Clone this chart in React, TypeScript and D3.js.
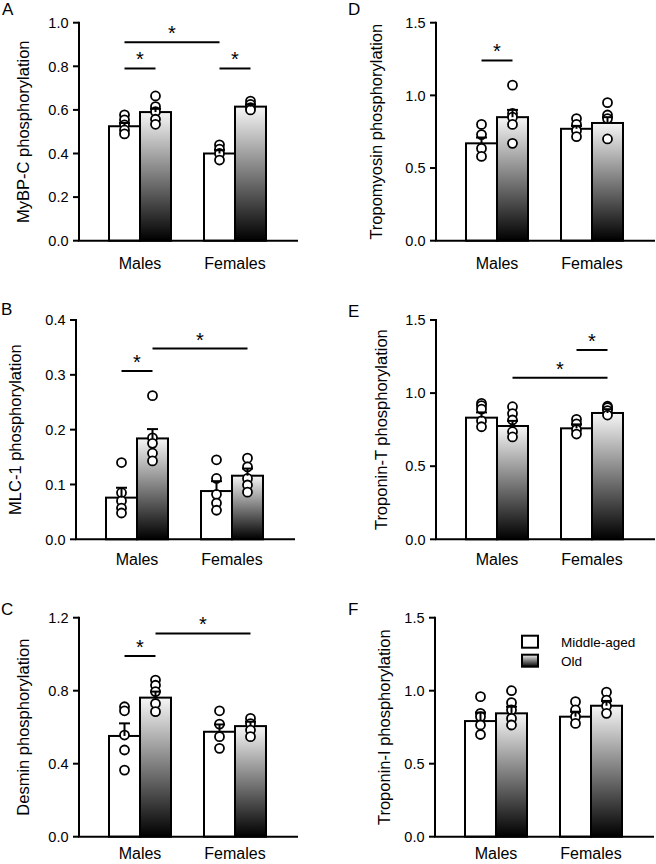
import React from "react";
import * as d3 from "d3";

const groups = ["Males", "Females"];
const seriesNames = ["Middle-aged", "Old"];

// bar order: [MA Males, Old Males, MA Females, Old Females]
const mybpcMeans = [0.525, 0.59, 0.4, 0.615];
const mybpcSem = [0.015, 0.015, 0.015, 0.01];
const mybpcDots = [[0.577, 0.554, 0.531, 0.508, 0.49], [0.664, 0.615, 0.592, 0.557, 0.534], [0.44, 0.42, 0.4, 0.37], [0.64, 0.625, 0.61, 0.6]];
const mybpcTicks = [0, 0.2, 0.4, 0.6, 0.8, 1.0];

const mlcMeans = [0.076, 0.184, 0.088, 0.116];
const mlcSem = [0.018, 0.017, 0.018, 0.013];
const mlcDots = [[0.14, 0.085, 0.07, 0.057, 0.048], [0.262, 0.185, 0.175, 0.157, 0.143], [0.145, 0.111, 0.082, 0.066, 0.053], [0.148, 0.132, 0.111, 0.099, 0.086]];
const mlcTicks = [0, 0.1, 0.2, 0.3, 0.4];

const desminMeans = [0.552, 0.762, 0.575, 0.606];
const desminSem = [0.069, 0.033, 0.04, 0.024];
const desminDots = [[0.712, 0.69, 0.557, 0.475, 0.365], [0.858, 0.83, 0.795, 0.73, 0.685], [0.69, 0.617, 0.548, 0.484], [0.648, 0.62, 0.584, 0.548]];
const desminTicks = [0, 0.4, 0.8, 1.2];

const tropoMeans = [0.67, 0.85, 0.77, 0.81];
const tropoSem = [0.04, 0.05, 0.02, 0.04];
const tropoDots = [[0.8, 0.73, 0.635, 0.58], [1.07, 0.876, 0.85, 0.8, 0.67], [0.84, 0.8, 0.757, 0.716], [0.95, 0.865, 0.84, 0.7]];
const tnTMeans = [0.832, 0.775, 0.759, 0.864];
const tnTSem = [0.036, 0.035, 0.027, 0.026];
const tnTDots = [[0.93, 0.914, 0.89, 0.81, 0.77], [0.907, 0.86, 0.816, 0.736, 0.7], [0.82, 0.79, 0.75, 0.72], [0.91, 0.9, 0.88, 0.85]];
const tnIMeans = [0.792, 0.845, 0.822, 0.897];
const tnISem = [0.058, 0.045, 0.034, 0.033];
const tnIDots = [[0.959, 0.845, 0.822, 0.765, 0.7], [1.0, 0.918, 0.868, 0.81, 0.765], [0.925, 0.868, 0.822, 0.776], [0.99, 0.936, 0.895, 0.845]];
const ticks15 = [0, 0.5, 1.0, 1.5];

// significance: [barA, barB, y]
const mybpcSig = [[0, 1, 0.79], [2, 3, 0.79], [0, 2, 0.91]];
const mlcSig = [[0, 1, 0.307], [1, 3, 0.348]];
const desminSig = [[0, 1, 0.99], [1, 3, 1.114]];
const tropoSig = [[0, 1, 1.24]];
const tnTSig = [[2, 3, 1.295], [1, 3, 1.105]];
const tnISig: number[][] = [];

const FONT = "'Liberation Sans', Arial, Helvetica, sans-serif";

type PanelCfg = {
  letter: string; lx: number; ly: number;
  title: string; tx: number;
  ox: number; yTop: number; yBot: number;
  max: number; ticks: number[]; fmt: string;
  means: number[]; sem: number[]; dots: number[][]; sig: number[][];
  labelOff: number; legend?: boolean;
};

const panels: PanelCfg[] = [
  { letter: "A", lx: 2, ly: 15, title: "MyBP-C phosphorylation", tx: 29, ox: 79, yTop: 22.7, yBot: 240.7, max: 1.0, ticks: mybpcTicks, fmt: ".1f", means: mybpcMeans, sem: mybpcSem, dots: mybpcDots, sig: mybpcSig, labelOff: 28.5 },
  { letter: "B", lx: 1, ly: 315, title: "MLC-1 phosphorylation", tx: 21, ox: 76, yTop: 320, yBot: 539.3, max: 0.4, ticks: mlcTicks, fmt: ".1f", means: mlcMeans, sem: mlcSem, dots: mlcDots, sig: mlcSig, labelOff: 26 },
  { letter: "C", lx: 1, ly: 615, title: "Desmin phosphorylation", tx: 29, ox: 79, yTop: 617.7, yBot: 836.7, max: 1.2, ticks: desminTicks, fmt: ".1f", means: desminMeans, sem: desminSem, dots: desminDots, sig: desminSig, labelOff: 22.5 },
  { letter: "D", lx: 348, ly: 15, title: "Tropomyosin phosphorylation", tx: 382, ox: 436, yTop: 22.7, yBot: 240.7, max: 1.5, ticks: ticks15, fmt: ".1f", means: tropoMeans, sem: tropoSem, dots: tropoDots, sig: tropoSig, labelOff: 28.5 },
  { letter: "E", lx: 348, ly: 317, title: "Troponin-T phosphorylation", tx: 387, ox: 436, yTop: 320, yBot: 539.3, max: 1.5, ticks: ticks15, fmt: ".1f", means: tnTMeans, sem: tnTSem, dots: tnTDots, sig: tnTSig, labelOff: 26 },
  { letter: "F", lx: 348, ly: 615, title: "Troponin-I phosphorylation", tx: 390, ox: 435, yTop: 617.7, yBot: 836.7, max: 1.5, ticks: ticks15, fmt: ".1f", means: tnIMeans, sem: tnISem, dots: tnIDots, sig: tnISig, labelOff: 22.5, legend: true },
];

const BAR_W = 31;

function Panel({ p }: { p: PanelCfg }) {
  const y = d3.scaleLinear().domain([0, p.max]).range([p.yBot, p.yTop]);
  const gx = d3.scalePoint<string>().domain(groups).range([p.ox + 61, p.ox + 156]);
  const fmt = d3.format(p.fmt);
  const bars = p.means.map((m, i) => {
    const g = groups[Math.floor(i / 2)];
    const s = i % 2;
    const c = gx(g)!;
    const x0 = s === 0 ? c - BAR_W : c;
    return { x0, cx: x0 + BAR_W / 2, m, s, sem: p.sem[i], dots: p.dots[i] };
  });
  const midY = (p.yTop + p.yBot) / 2;
  return (
    <g>
      <text x={p.lx} y={p.ly} fontSize={17} fontFamily={FONT}>{p.letter}</text>
      <text transform={`translate(${p.tx},${midY}) rotate(-90)`} textAnchor="middle" fontSize={16.5} fontFamily={FONT}>{p.title}</text>
      {bars.map((b, i) => (
        <rect key={"b" + i} x={b.x0} y={y(b.m)} width={BAR_W} height={p.yBot - y(b.m)}
          fill={b.s === 0 ? "#fff" : "url(#oldGrad)"} stroke="#000" strokeWidth={2} />
      ))}
      {bars.map((b, i) => b.dots.map((v, j) => (
        <circle key={"d" + i + "-" + j} cx={b.cx} cy={y(v)} r={4.5} fill="#fff" stroke="#000" strokeWidth={1.8} />
      )))}
      {bars.map((b, i) => (
        <g key={"e" + i} stroke="#000" strokeWidth={2}>
          <line x1={b.cx} x2={b.cx} y1={y(b.m)} y2={y(b.m + b.sem)} />
          <line x1={b.cx - 5.5} x2={b.cx + 5.5} y1={y(b.m + b.sem)} y2={y(b.m + b.sem)} />
        </g>
      ))}
      <line x1={p.ox} x2={p.ox} y1={p.yTop - 1} y2={p.yBot} stroke="#000" strokeWidth={2} />
      <line x1={p.ox - 1} x2={p.ox + 219} y1={p.yBot} y2={p.yBot} stroke="#000" strokeWidth={2} />
      {p.ticks.map((t, i) => (
        <g key={"t" + i}>
          <line x1={p.ox - 6} x2={p.ox} y1={y(t)} y2={y(t)} stroke="#000" strokeWidth={2} />
          <text x={p.ox - 10.5} y={y(t)} dy="0.36em" textAnchor="end" fontSize={14.5} fontFamily={FONT}>{fmt(t)}</text>
        </g>
      ))}
      {groups.map((g) => (
        <text key={g} x={gx(g)!} y={p.yBot + p.labelOff} textAnchor="middle" fontSize={16} fontFamily={FONT}>{g}</text>
      ))}
      {p.sig.map(([a, b, v], i) => {
        const x1 = bars[a].cx, x2 = bars[b].cx;
        return (
          <g key={"s" + i}>
            <line x1={x1} x2={x2} y1={y(v)} y2={y(v)} stroke="#000" strokeWidth={2} />
            <text x={(x1 + x2) / 2} y={y(v) - 2} textAnchor="middle" fontSize={20} fontFamily={FONT}>*</text>
          </g>
        );
      })}
      {p.legend && seriesNames.map((s, i) => (
        <g key={"l" + i}>
          <rect x={p.ox + 87} y={p.yTop + 18 + i * 19} width={16} height={12}
            fill={i === 0 ? "#fff" : "url(#oldGrad)"} stroke="#000" strokeWidth={2} />
          <text x={p.ox + 126} y={p.yTop + 24 + i * 19} dy="0.36em" fontSize={13.5} fontFamily={FONT}>{s}</text>
        </g>
      ))}
    </g>
  );
}

export default function App() {
  return (
    <svg width={656} height={864} style={{ position: "absolute", left: 0, top: 0, background: "#fff" }}>
      <defs>
        <linearGradient id="oldGrad" x1="0" y1="0" x2="0" y2="1">
          <stop offset="0" stopColor="#f6f6f6" />
          <stop offset="1" stopColor="#000" />
        </linearGradient>
      </defs>
      <rect x={0} y={0} width={656} height={864} fill="#fff" />
      {panels.map((p) => <Panel key={p.letter} p={p} />)}
    </svg>
  );
}
